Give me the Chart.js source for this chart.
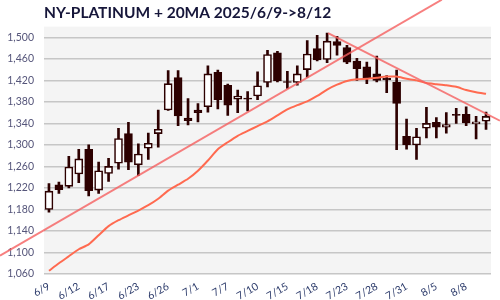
<!DOCTYPE html>
<html>
<head>
<meta charset="utf-8">
<script src="https://cdn.jsdelivr.net/npm/chart.js@4.4.1/dist/chart.umd.min.js"></script>
<style>
  html, body { margin: 0; padding: 0; background: #fff; }
  #wrap { width: 500px; height: 300px; }
</style>
</head>
<body>
<div id="wrap"><canvas id="chart"></canvas></div>
<script>
/* ── Data ─────────────────────────────────────────────── */
const dates = [
  '6/9','6/10','6/11','6/12','6/13','6/16','6/17','6/18','6/20','6/23',
  '6/24','6/25','6/26','6/27','6/30','7/1','7/2','7/3','7/7','7/8',
  '7/9','7/10','7/11','7/14','7/15','7/16','7/17','7/18','7/21','7/22',
  '7/23','7/24','7/25','7/28','7/29','7/30','7/31','8/1','8/4','8/5',
  '8/6','8/7','8/8','8/11','8/12'
];
const tickDates = ['6/9','6/12','6/17','6/23','6/26','7/1','7/7','7/10','7/15','7/18','7/23','7/28','7/31','8/5','8/8'];

const open  = [1180,1226,1223,1246,1292,1216,1247,1266,1321,1263,1294,1321,1365,1425,1350,1365,1371,1435,1411,1385,
               1387,1391,1416,1471,1418,1416,1440,1479,1459,1492,1481,1456,1445,1432,1424,1417,1316,1300,1331,1342,
               1333,1357,1357,1339,1344];
const high  = [1228,1231,1279,1292,1300,1268,1275,1331,1342,1302,1322,1365,1438,1438,1386,1377,1447,1439,1413,1402,
               1399,1436,1476,1474,1437,1447,1494,1504,1508,1502,1485,1461,1454,1465,1429,1439,1348,1331,1370,1351,
               1360,1368,1371,1353,1361];
const low   = [1175,1210,1220,1230,1205,1210,1232,1255,1254,1243,1273,1296,1364,1336,1337,1343,1361,1367,1355,1360,
               1363,1384,1408,1417,1405,1411,1426,1456,1453,1467,1451,1420,1414,1417,1397,1291,1292,1273,1313,1313,
               1322,1340,1336,1311,1329];
const close = [1214,1217,1259,1274,1215,1252,1260,1312,1268,1283,1303,1329,1414,1354,1345,1360,1432,1384,1374,1391,
               1385,1410,1468,1419,1416,1432,1469,1458,1493,1485,1454,1442,1424,1420,1421,1377,1300,1315,1340,1333,
               1338,1355,1341,1343,1353];
const ma20  = [1066,1080,1093,1106,1115,1132,1149,1160,1169,1178,1188,1200,1215,1226,1237,1252,1271,1292,1305,1317,
               1326,1335,1344,1355,1366,1374,1381,1391,1403,1412,1419,1422,1423,1425,1427,1427,1423,1420,1415,1413,
               1411,1408,1402,1398,1395];

// trend lines: [index, price] end points
const upTrend   = [[-4.93, 1094], [39.55, 1570]];
const downTrend = [[28.1, 1508], [45.4, 1345]];

/* ── Colours ──────────────────────────────────────────── */
const DARK  = '#2d0000';
const UP    = '#ffffff';
const MA    = '#ff6a50';
const TREND = 'rgba(245,95,95,0.8)';

const idx = dates.map((d, i) => i);
const isUp = idx.map(i => close[i] >= open[i]);

const chartBg = {
  id: 'chartBg',
  beforeDraw(chart) {
    const { ctx, chartArea: a } = chart;
    ctx.save();
    ctx.fillStyle = '#f4f4f4';
    ctx.fillRect(a.left, a.top, a.right - a.left, a.bottom - a.top);
    ctx.restore();
  }
};

new Chart(document.getElementById('chart'), {
  type: 'bar',
  data: {
    datasets: [
      {
        type: 'line',
        data: upTrend.map(p => ({ x: p[0], y: p[1] })),
        borderColor: TREND,
        borderWidth: 2,
        pointRadius: 0,
        clip: false,
        order: 0
      },
      {
        type: 'line',
        data: downTrend.map(p => ({ x: p[0], y: p[1] })),
        borderColor: TREND,
        borderWidth: 2,
        pointRadius: 0,
        clip: false,
        order: 0
      },
      {
        type: 'line',
        data: idx.map(i => ({ x: i, y: ma20[i] })),
        borderColor: MA,
        borderWidth: 2,
        pointRadius: 0,
        tension: 0.2,
        order: 0
      },
      {
        // candle bodies
        data: idx.map(i => ({ x: i, y: [open[i], close[i]] })),
        backgroundColor: idx.map(i => isUp[i] ? UP : DARK),
        borderColor: DARK,
        borderWidth: 1.6,
        borderSkipped: false,
        barThickness: 8,
        grouped: false,
        order: 1
      },
      {
        // wicks
        data: idx.map(i => ({ x: i, y: [low[i], high[i]] })),
        backgroundColor: DARK,
        borderWidth: 0,
        barThickness: 2,
        grouped: false,
        order: 2
      }
    ]
  },
  options: {
    responsive: true,
    maintainAspectRatio: false,
    animation: false,
    layout: { padding: { left: 0, right: 9, top: 0, bottom: 0 } },
    plugins: {
      legend: { display: false },
      tooltip: { enabled: false },
      title: {
        display: true,
        text: 'NY-PLATINUM + 20MA 2025/6/9->8/12',
        align: 'start',
        fullSize: false,
        color: '#16163a',
        font: { family: 'Lato', size: 15.5, weight: 'bold' },
        padding: { top: 4, bottom: 4 }
      }
    },
    scales: {
      x: {
        type: 'linear',
        min: -0.5,
        max: 44.5,
        offset: false,
        grid: { display: false, offset: false },
        border: { display: false },
        afterBuildTicks: s => { s.ticks = tickDates.map(d => ({ value: dates.indexOf(d) })); },
        afterFit: s => { s.height = 26; },
        ticks: {
          autoSkip: false,
          minRotation: 30,
          maxRotation: 30,
          padding: -2,
          color: '#2b3a6a',
          font: { family: 'Lato', size: 10.5 },
          callback: v => dates[v]
        }
      },
      y: {
        min: 1060,
        max: 1520,
        grid: { color: '#c6c6c6', lineWidth: 1.5, drawTicks: false },
        border: { display: false },
        afterFit: s => { s.width = 44; },
        ticks: {
          stepSize: 20,
          padding: 10,
          color: '#55557a',
          font: { family: 'Lato', size: 10.5 },
          callback: v => (v - 1060) % 40 === 0 ? v.toLocaleString('en-US') : ''
        }
      }
    }
  },
  plugins: [chartBg]
});
</script>
</body>
</html>
